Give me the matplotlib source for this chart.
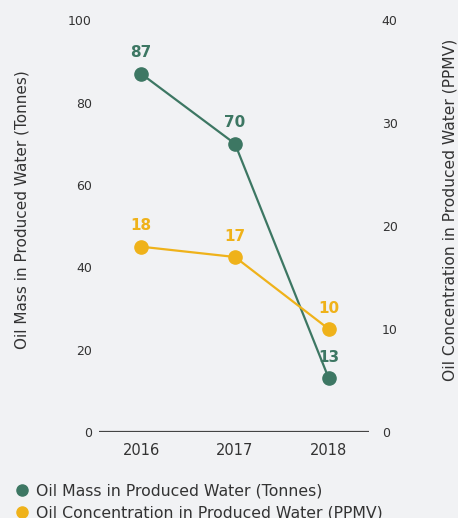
import matplotlib
matplotlib.use("Agg")
from matplotlib import pyplot as plt
from matplotlib.lines import Line2D

# Values
years = ["2016", "2017", "2018"]
oil_mass = [87, 70, 13]          # tonnes
oil_conc = [18, 17, 10]          # ppmv
left_ticks = [0, 20, 40, 60, 80, 100]
right_ticks = [0, 10, 20, 30, 40]

green = "#3d7763"
yellow = "#efb21a"
bg = "#f1f2f4"
txt = "#333333"

plt.rcParams['font.family'] = ['DejaVu Sans']

fig = plt.figure(figsize=(4.58, 5.18), dpi=100, facecolor=bg)
ax = fig.add_axes([0.216, 0.166, 0.59, 0.795], facecolor=bg)
ax2 = ax.twinx()

x = list(range(len(years)))

ax.plot(x, oil_mass, color=green, lw=1.6, marker='o', ms=9.5, zorder=3)
ax2.plot(x, oil_conc, color=yellow, lw=1.6, marker='o', ms=9.5, zorder=3)

for xi, v in zip(x, oil_mass):
    ax.annotate(f"{v}", (xi, v), xytext=(0, 15), textcoords='offset points',
                ha='center', va='center', color=green, fontsize=11, fontweight='bold')
for xi, v in zip(x, oil_conc):
    ax2.annotate(f"{v}", (xi, v), xytext=(0, 15), textcoords='offset points',
                 ha='center', va='center', color=yellow, fontsize=11, fontweight='bold')

ax.set_xlim(-0.45, 2.43)
ax.set_ylim(0, 100)
ax2.set_ylim(0, 40)
ax.set_xticks(x)
ax.set_xticklabels(years, fontsize=10.5, color=txt)
ax.set_yticks(left_ticks)
ax2.set_yticks(right_ticks)
ax.tick_params(axis='y', length=0, labelsize=9, labelcolor=txt, pad=5)
ax2.tick_params(axis='y', length=0, labelsize=9, labelcolor=txt, pad=9)
ax.tick_params(axis='x', length=0, pad=8)

for a in (ax, ax2):
    for s in a.spines.values():
        s.set_visible(False)
ax.axhline(0, color="#444444", lw=1.6, zorder=2)

ax.set_ylabel("Oil Mass in Produced Water (Tonnes)", fontsize=11, color=txt,
              va='center')
ax2.set_ylabel("Oil Concentration in Produced Water (PPMV)", fontsize=11.2, color=txt,
               rotation=90, va='center')
ax.yaxis.set_label_coords(-0.285, 0.54)
ax2.yaxis.set_label_coords(1.298, 0.54)

handles = [
    Line2D([], [], color=green, marker='o', ls='none', ms=8),
    Line2D([], [], color=yellow, marker='o', ls='none', ms=8),
]
labels = ["Oil Mass in Produced Water (Tonnes)",
          "Oil Concentration in Produced Water (PPMV)"]
fig.legend(handles, labels, loc='upper left', bbox_to_anchor=(0.018, 0.078),
           frameon=False, fontsize=11.3, handletextpad=0.35, labelspacing=0.45,
           handlelength=1.0, labelcolor=txt, borderaxespad=0)

fig.savefig("out.png", dpi=100, facecolor=bg)
